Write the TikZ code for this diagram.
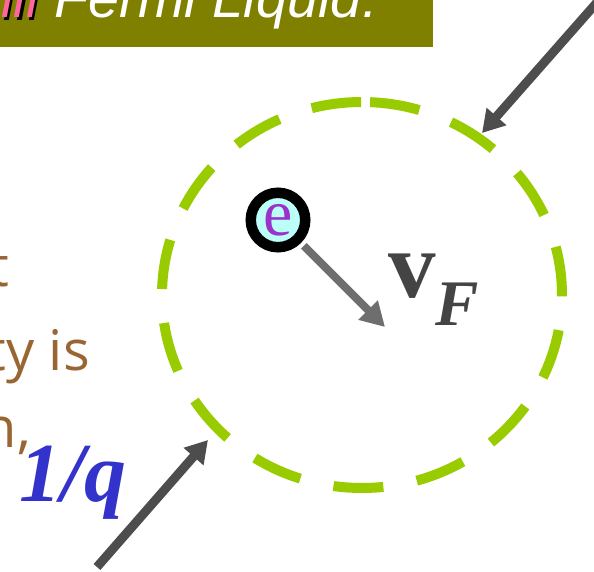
\documentclass[tikz,border=0pt]{standalone}
\usepackage{fontspec}
\setmainfont{Liberation Serif}
\newfontfamily\headfont{Liberation Sans}
\newfontfamily\slidefont{Open Sans}
\usetikzlibrary{arrows.meta}

\definecolor{olivebar}{HTML}{808000}
\definecolor{pinktext}{HTML}{FF6699}
\definecolor{browntext}{HTML}{996633}
\definecolor{bluetext}{HTML}{3333CC}
\definecolor{limedash}{HTML}{99CC00}
\definecolor{darkarrow}{HTML}{4D4D4D}
\definecolor{grayarrow}{HTML}{6E6E6E}
\definecolor{vlabel}{HTML}{444444}
\definecolor{cyanfill}{HTML}{BBFFF8}
\definecolor{purpletext}{HTML}{9933CC}

% pink letters with a black drop shadow
\newcommand\shadowed[1]{\makebox[0pt][l]{\hspace{2.5pt}\raisebox{-2.5pt}{\color{black}#1}}{\color{pinktext}#1}}

\begin{document}
\begin{tikzpicture}[x=1pt, y=-1pt,
  pointer/.style={-{Triangle[length=22pt,width=25pt]}, line width=9pt, darkarrow},
  bodytext/.style={anchor=base east, inner sep=0pt, text=browntext, font=\slidefont\fontsize{56}{60}\selectfont}]

\useasboundingbox (0,0) rectangle (594,572);
\clip (0,0) rectangle (594,572);

% Title bar
\fill[olivebar] (-10,-10) rectangle (433,47);
\node (title) [anchor=base west, inner sep=0pt, text=white, font=\headfont\itshape\fontsize{56}{60}\selectfont] at (1,18) {\shadowed{ill} Fermi Liquid:};

% Slide text on the left
\node (lineone) [bodytext] at (9,286) {t};
\node (linetwo) [bodytext] at (90,370) {ty is};
\node (linethree) [bodytext] at (31,447) {n,};
\node (wavelength) [anchor=base west, inner sep=0pt, text=bluetext, font=\bfseries\itshape\fontsize{84}{84}\selectfont] at (19,501) {1/q};

% Dashed region of size 1/q
\draw[limedash, line width=10pt, dash pattern=on 50pt off 34pt] (362,295) ++(-87.7:200 and 193) arc[start angle=-87.7, end angle=272.3, x radius=200, y radius=193];

% Electron and its velocity
\node (electron) [circle, draw=black, line width=10.5pt, fill=cyanfill, minimum size=54.5pt, inner sep=0pt, text=purpletext, font=\fontsize{66}{66}\selectfont] at (278,220) {e};
\coordinate (vtip) at (385,327);
\draw[-{Triangle[length=24pt,width=26pt]}, line width=8pt, grayarrow, shorten <=4pt] (electron) -- (vtip);
\node (velocity) [anchor=base west, inner sep=0pt, text=vlabel, font=\bfseries\fontsize{95}{95}\selectfont] at (388,297) {v\raisebox{-28pt}{\itshape\fontsize{65}{65}\selectfont F}};

% Arrows pointing at the region
\coordinate (topstart) at (600,-1);
\coordinate (toptip) at (482,133);
\draw[pointer] (topstart) -- (toptip);
\coordinate (bottomstart) at (97,567);
\coordinate (bottomtip) at (208,440);
\draw[pointer] (bottomstart) -- (bottomtip);

\end{tikzpicture}
\end{document}
